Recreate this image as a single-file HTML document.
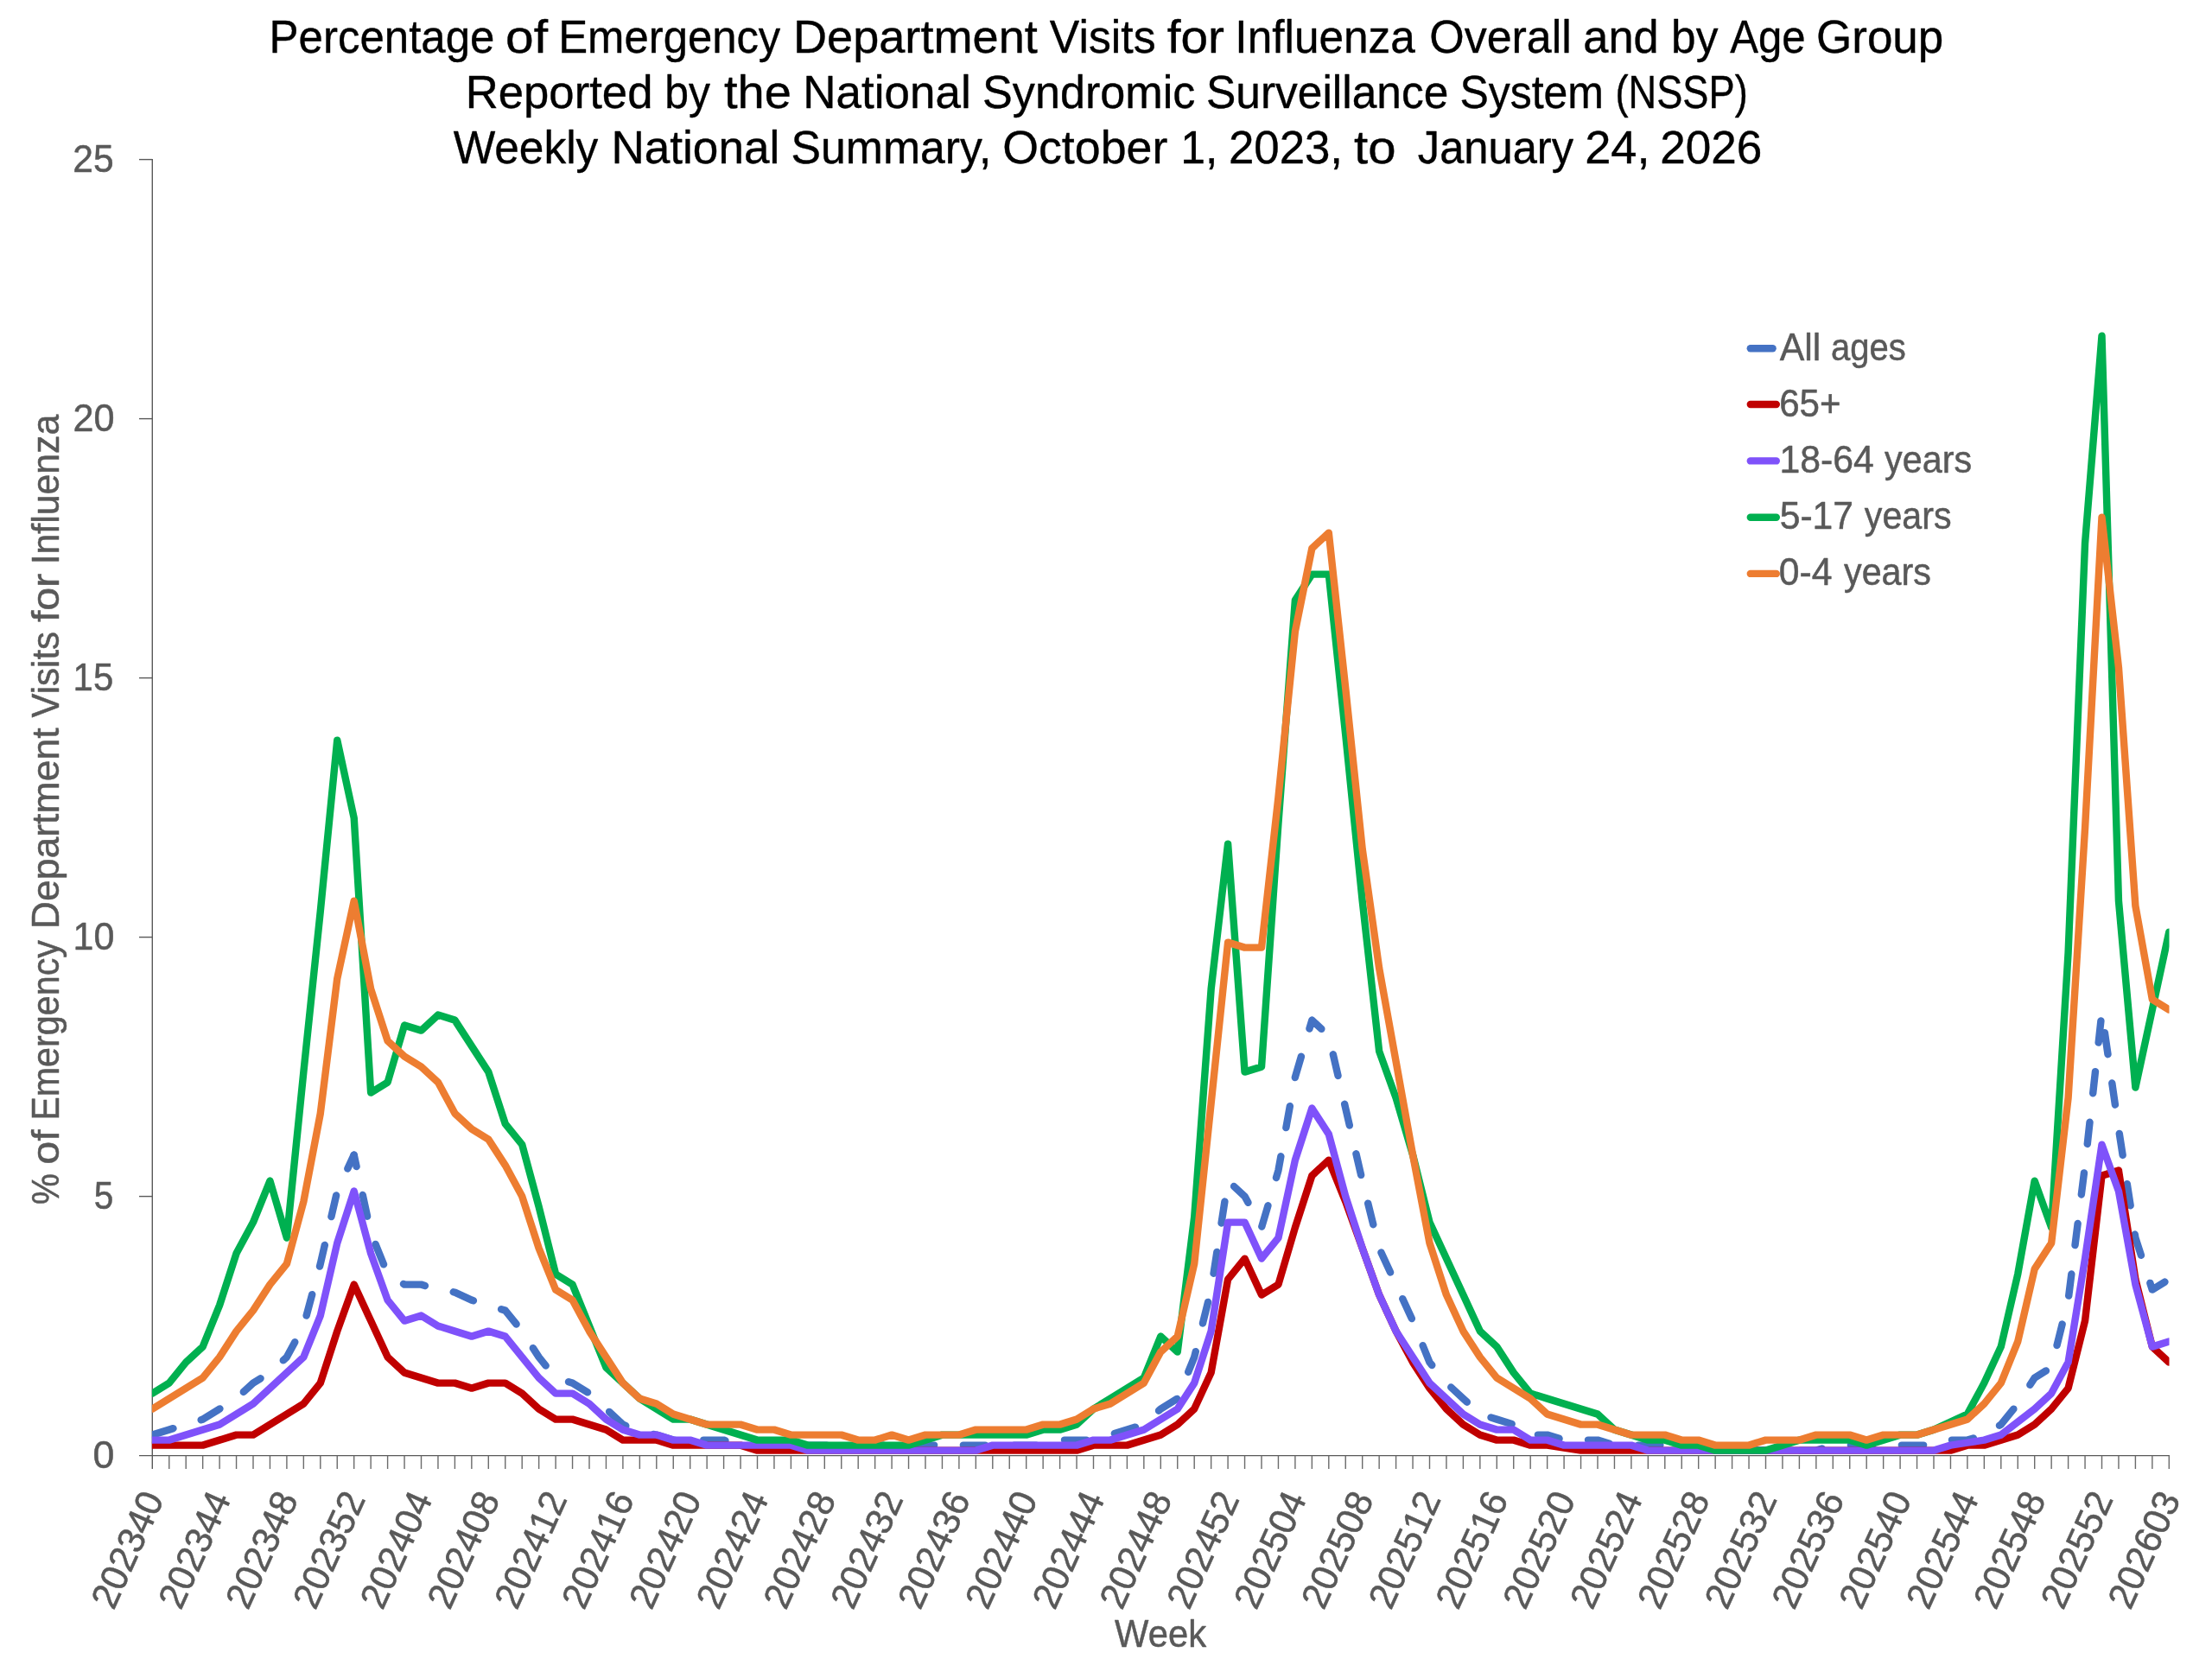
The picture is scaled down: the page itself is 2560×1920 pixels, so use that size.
<!DOCTYPE html>
<html lang="en"><head><meta charset="utf-8"><title>Percentage of Emergency Department Visits for Influenza</title>
<style>html,body{margin:0;padding:0;background:#fff}body{width:2560px;height:1920px;overflow:hidden}svg{display:block}text{font-family:"Liberation Sans",sans-serif;stroke-linejoin:round}.g text,text.g{stroke:#595959;stroke-width:0.5px}.k{stroke:#000;stroke-width:0.4px}</style>
</head><body>
<svg width="2560" height="1920" viewBox="0 0 2560 1920" style="will-change:transform">
<rect width="2560" height="1920" fill="#ffffff"/>
<defs><clipPath id="plot"><rect x="175.90" y="150" width="2334.60" height="1534.80"/></clipPath></defs>
<text class="k" x="311.62" y="61.10" font-size="54.50" fill="#000" textLength="260.75" lengthAdjust="spacingAndGlyphs">Percentage</text>
<text class="k" x="585.03" y="61.10" font-size="54.50" fill="#000" textLength="48.98" lengthAdjust="spacingAndGlyphs">of</text>
<text class="k" x="646.23" y="61.10" font-size="54.50" fill="#000" textLength="257.07" lengthAdjust="spacingAndGlyphs">Emergency</text>
<text class="k" x="917.96" y="61.10" font-size="54.50" fill="#000" textLength="282.84" lengthAdjust="spacingAndGlyphs">Department</text>
<text class="k" x="1214.87" y="61.10" font-size="54.50" fill="#000" textLength="122.70" lengthAdjust="spacingAndGlyphs">Visits</text>
<text class="k" x="1350.70" y="61.10" font-size="54.50" fill="#000" textLength="66.25" lengthAdjust="spacingAndGlyphs">for</text>
<text class="k" x="1429.36" y="61.10" font-size="54.50" fill="#000" textLength="208.54" lengthAdjust="spacingAndGlyphs">Influenza</text>
<text class="k" x="1654.24" y="61.10" font-size="54.50" fill="#000" textLength="164.64" lengthAdjust="spacingAndGlyphs">Overall</text>
<text class="k" x="1832.37" y="61.10" font-size="54.50" fill="#000" textLength="87.40" lengthAdjust="spacingAndGlyphs">and</text>
<text class="k" x="1934.09" y="61.10" font-size="54.50" fill="#000" textLength="54.31" lengthAdjust="spacingAndGlyphs">by</text>
<text class="k" x="2002.20" y="61.10" font-size="54.50" fill="#000" textLength="87.28" lengthAdjust="spacingAndGlyphs">Age</text>
<text class="k" x="2102.03" y="61.10" font-size="54.50" fill="#000" textLength="147.29" lengthAdjust="spacingAndGlyphs">Group</text>
<text class="k" x="538.68" y="125.00" font-size="54.50" fill="#000" textLength="216.82" lengthAdjust="spacingAndGlyphs">Reported</text>
<text class="k" x="769.18" y="125.00" font-size="54.50" fill="#000" textLength="52.71" lengthAdjust="spacingAndGlyphs">by</text>
<text class="k" x="837.95" y="125.00" font-size="54.50" fill="#000" textLength="77.94" lengthAdjust="spacingAndGlyphs">the</text>
<text class="k" x="929.35" y="125.00" font-size="54.50" fill="#000" textLength="194.39" lengthAdjust="spacingAndGlyphs">National</text>
<text class="k" x="1137.03" y="125.00" font-size="54.50" fill="#000" textLength="246.44" lengthAdjust="spacingAndGlyphs">Syndromic</text>
<text class="k" x="1395.96" y="125.00" font-size="54.50" fill="#000" textLength="280.43" lengthAdjust="spacingAndGlyphs">Surveillance</text>
<text class="k" x="1689.43" y="125.00" font-size="54.50" fill="#000" textLength="166.56" lengthAdjust="spacingAndGlyphs">System</text>
<text class="k" x="1869.50" y="125.00" font-size="54.50" fill="#000" textLength="153.21" lengthAdjust="spacingAndGlyphs">(NSSP)</text>
<text class="k" x="524.67" y="189.20" font-size="54.50" fill="#000" textLength="167.63" lengthAdjust="spacingAndGlyphs">Weekly</text>
<text class="k" x="707.44" y="189.20" font-size="54.50" fill="#000" textLength="194.81" lengthAdjust="spacingAndGlyphs">National</text>
<text class="k" x="915.55" y="189.20" font-size="54.50" fill="#000" textLength="231.90" lengthAdjust="spacingAndGlyphs">Summary,</text>
<text class="k" x="1160.16" y="189.20" font-size="54.50" fill="#000" textLength="191.14" lengthAdjust="spacingAndGlyphs">October</text>
<text class="k" x="1366.15" y="189.20" font-size="54.50" fill="#000" textLength="43.20" lengthAdjust="spacingAndGlyphs">1,</text>
<text class="k" x="1421.95" y="189.20" font-size="54.50" fill="#000" textLength="132.10" lengthAdjust="spacingAndGlyphs">2023,</text>
<text class="k" x="1567.02" y="189.20" font-size="54.50" fill="#000" textLength="48.52" lengthAdjust="spacingAndGlyphs">to</text>
<text class="k" x="1640.81" y="189.20" font-size="54.50" fill="#000" textLength="180.29" lengthAdjust="spacingAndGlyphs">January</text>
<text class="k" x="1834.17" y="189.20" font-size="54.50" fill="#000" textLength="75.40" lengthAdjust="spacingAndGlyphs">24,</text>
<text class="k" x="1921.23" y="189.20" font-size="54.50" fill="#000" textLength="118.00" lengthAdjust="spacingAndGlyphs">2026</text>
<g stroke="#595959" stroke-width="1.4" fill="none">
<line x1="176.30" y1="183.90" x2="176.30" y2="1700.00"/>
<line x1="161.00" y1="1684.60" x2="2511.00" y2="1684.60"/>
<line x1="161.00" y1="1384.60" x2="176.30" y2="1384.60"/>
<line x1="161.00" y1="1084.60" x2="176.30" y2="1084.60"/>
<line x1="161.00" y1="784.60" x2="176.30" y2="784.60"/>
<line x1="161.00" y1="484.60" x2="176.30" y2="484.60"/>
<line x1="161.00" y1="184.60" x2="176.30" y2="184.60"/>
</g>
<g stroke="#6b6b6b" stroke-width="1.4" fill="none">
<path d="M195.75 1684.60V1700.00M215.20 1684.60V1700.00M234.65 1684.60V1700.00M254.10 1684.60V1700.00M273.55 1684.60V1700.00M293.00 1684.60V1700.00M312.45 1684.60V1700.00M331.90 1684.60V1700.00M351.35 1684.60V1700.00M370.80 1684.60V1700.00M390.25 1684.60V1700.00M409.70 1684.60V1700.00M429.15 1684.60V1700.00M448.60 1684.60V1700.00M468.05 1684.60V1700.00M487.50 1684.60V1700.00M506.95 1684.60V1700.00M526.40 1684.60V1700.00M545.85 1684.60V1700.00M565.30 1684.60V1700.00M584.75 1684.60V1700.00M604.20 1684.60V1700.00M623.65 1684.60V1700.00M643.10 1684.60V1700.00M662.55 1684.60V1700.00M682.00 1684.60V1700.00M701.45 1684.60V1700.00M720.90 1684.60V1700.00M740.35 1684.60V1700.00M759.80 1684.60V1700.00M779.25 1684.60V1700.00M798.70 1684.60V1700.00M818.15 1684.60V1700.00M837.60 1684.60V1700.00M857.05 1684.60V1700.00M876.50 1684.60V1700.00M895.95 1684.60V1700.00M915.40 1684.60V1700.00M934.85 1684.60V1700.00M954.30 1684.60V1700.00M973.75 1684.60V1700.00M993.20 1684.60V1700.00M1012.65 1684.60V1700.00M1032.10 1684.60V1700.00M1051.55 1684.60V1700.00M1071.00 1684.60V1700.00M1090.45 1684.60V1700.00M1109.90 1684.60V1700.00M1129.35 1684.60V1700.00M1148.80 1684.60V1700.00M1168.25 1684.60V1700.00M1187.70 1684.60V1700.00M1207.15 1684.60V1700.00M1226.60 1684.60V1700.00M1246.05 1684.60V1700.00M1265.50 1684.60V1700.00M1284.95 1684.60V1700.00M1304.40 1684.60V1700.00M1323.85 1684.60V1700.00M1343.30 1684.60V1700.00M1362.75 1684.60V1700.00M1382.20 1684.60V1700.00M1401.65 1684.60V1700.00M1421.10 1684.60V1700.00M1440.55 1684.60V1700.00M1460.00 1684.60V1700.00M1479.45 1684.60V1700.00M1498.90 1684.60V1700.00M1518.35 1684.60V1700.00M1537.80 1684.60V1700.00M1557.25 1684.60V1700.00M1576.70 1684.60V1700.00M1596.15 1684.60V1700.00M1615.60 1684.60V1700.00M1635.05 1684.60V1700.00M1654.50 1684.60V1700.00M1673.95 1684.60V1700.00M1693.40 1684.60V1700.00M1712.85 1684.60V1700.00M1732.30 1684.60V1700.00M1751.75 1684.60V1700.00M1771.20 1684.60V1700.00M1790.65 1684.60V1700.00M1810.10 1684.60V1700.00M1829.55 1684.60V1700.00M1849.00 1684.60V1700.00M1868.45 1684.60V1700.00M1887.90 1684.60V1700.00M1907.35 1684.60V1700.00M1926.80 1684.60V1700.00M1946.25 1684.60V1700.00M1965.70 1684.60V1700.00M1985.15 1684.60V1700.00M2004.60 1684.60V1700.00M2024.05 1684.60V1700.00M2043.50 1684.60V1700.00M2062.95 1684.60V1700.00M2082.40 1684.60V1700.00M2101.85 1684.60V1700.00M2121.30 1684.60V1700.00M2140.75 1684.60V1700.00M2160.20 1684.60V1700.00M2179.65 1684.60V1700.00M2199.10 1684.60V1700.00M2218.55 1684.60V1700.00M2238.00 1684.60V1700.00M2257.45 1684.60V1700.00M2276.90 1684.60V1700.00M2296.35 1684.60V1700.00M2315.80 1684.60V1700.00M2335.25 1684.60V1700.00M2354.70 1684.60V1700.00M2374.15 1684.60V1700.00M2393.60 1684.60V1700.00M2413.05 1684.60V1700.00M2432.50 1684.60V1700.00M2451.95 1684.60V1700.00M2471.40 1684.60V1700.00M2490.85 1684.60V1700.00M2510.30 1684.60V1700.00"/>
</g>
<g clip-path="url(#plot)" fill="none" stroke-width="8.43" stroke-linejoin="round" stroke-linecap="round">
<polyline stroke="#4472C4" stroke-dasharray="25.29 33.72" stroke-dashoffset="0.00" points="176.30,1660.60 195.75,1654.60 215.20,1648.60 234.65,1642.60 254.10,1630.60 273.55,1618.60 293.00,1600.60 312.45,1588.60 331.90,1570.60 351.35,1534.60 370.80,1462.60 390.25,1378.60 409.70,1336.60"/>
<polyline stroke="#4472C4" stroke-dasharray="25.29 33.72" stroke-dashoffset="11.56" points="409.70,1336.60 429.15,1426.60 448.60,1474.60 468.05,1486.60 487.50,1486.60 506.95,1492.60 526.40,1495.60 545.85,1504.60 565.30,1510.60 584.75,1516.60 604.20,1540.60 623.65,1570.60 643.10,1594.60 662.55,1600.60 682.00,1612.60 701.45,1630.60 720.90,1648.60 740.35,1657.60 759.80,1660.60 779.25,1666.60 798.70,1666.60 818.15,1666.60 837.60,1666.60 857.05,1672.60 876.50,1672.60 895.95,1672.60 915.40,1672.60 934.85,1672.60 954.30,1672.60 973.75,1672.60 993.20,1672.60"/>
<polyline stroke="#4472C4" stroke-dasharray="25.29 33.72" stroke-dashoffset="55.36" points="993.20,1672.60 1012.65,1672.60 1032.10,1672.60 1051.55,1672.60 1071.00,1672.60 1090.45,1672.60 1109.90,1672.60 1129.35,1672.60 1148.80,1672.60 1168.25,1672.60 1187.70,1672.60 1207.15,1672.60 1226.60,1666.60 1246.05,1666.60 1265.50,1666.60 1284.95,1660.60 1304.40,1654.60 1323.85,1648.60 1343.30,1630.60 1362.75,1618.60 1382.20,1570.60 1401.65,1492.60 1421.10,1366.60 1440.55,1384.60 1460.00,1420.60 1479.45,1354.60 1498.90,1246.60 1518.35,1180.60 1537.80,1198.60 1557.25,1282.60 1576.70,1366.60 1596.15,1444.60 1615.60,1486.60 1635.05,1528.60 1654.50,1576.60 1673.95,1600.60 1693.40,1618.60 1712.85,1636.60 1732.30,1642.60 1751.75,1648.60 1771.20,1660.60 1790.65,1660.60 1810.10,1666.60 1829.55,1666.60 1849.00,1666.60 1868.45,1672.60 1887.90,1672.60 1907.35,1672.60 1926.80,1672.60 1946.25,1672.60 1965.70,1672.60 1985.15,1678.60 2004.60,1678.60 2024.05,1678.60"/>
<polyline stroke="#4472C4" stroke-dasharray="25.29 33.72" stroke-dashoffset="58.34" points="2024.05,1678.60 2043.50,1678.60 2062.95,1678.60 2082.40,1678.60 2101.85,1678.60 2121.30,1672.60 2140.75,1672.60 2160.20,1672.60 2179.65,1672.60 2199.10,1672.60 2218.55,1672.60 2238.00,1672.60 2257.45,1666.60 2276.90,1666.60 2296.35,1660.60 2315.80,1648.60 2335.25,1624.60 2354.70,1594.60 2374.15,1582.60 2393.60,1504.60 2413.05,1348.60 2432.50,1171.60 2451.95,1306.60 2471.40,1432.60 2490.85,1492.60 2510.30,1480.60"/>
<polyline stroke="#C00000" points="176.30,1672.60 195.75,1672.60 215.20,1672.60 234.65,1672.60 254.10,1666.60 273.55,1660.60 293.00,1660.60 312.45,1648.60 331.90,1636.60 351.35,1624.60 370.80,1600.60 390.25,1540.60 409.70,1486.60 429.15,1528.60 448.60,1570.60 468.05,1588.60 487.50,1594.60 506.95,1600.60 526.40,1600.60 545.85,1606.60 565.30,1600.60 584.75,1600.60 604.20,1612.60 623.65,1630.60 643.10,1642.60 662.55,1642.60 682.00,1648.60 701.45,1654.60 720.90,1666.60 740.35,1666.60 759.80,1666.60 779.25,1672.60 798.70,1672.60 818.15,1672.60 837.60,1672.60 857.05,1672.60 876.50,1678.60 895.95,1678.60 915.40,1678.60 934.85,1678.60 954.30,1678.60 973.75,1678.60 993.20,1678.60 1012.65,1678.60 1032.10,1678.60 1051.55,1678.60 1071.00,1678.60 1090.45,1678.60 1109.90,1678.60 1129.35,1678.60 1148.80,1678.60 1168.25,1678.60 1187.70,1678.60 1207.15,1678.60 1226.60,1678.60 1246.05,1678.60 1265.50,1672.60 1284.95,1672.60 1304.40,1672.60 1323.85,1666.60 1343.30,1660.60 1362.75,1648.60 1382.20,1630.60 1401.65,1588.60 1421.10,1480.60 1440.55,1456.60 1460.00,1498.60 1479.45,1486.60 1498.90,1420.60 1518.35,1360.60 1537.80,1342.60 1557.25,1390.60 1576.70,1444.60 1596.15,1498.60 1615.60,1540.60 1635.05,1576.60 1654.50,1606.60 1673.95,1630.60 1693.40,1648.60 1712.85,1660.60 1732.30,1666.60 1751.75,1666.60 1771.20,1672.60 1790.65,1672.60 1810.10,1675.60 1829.55,1678.60 1849.00,1678.60 1868.45,1678.60 1887.90,1678.60 1907.35,1678.60 1926.80,1678.60 1946.25,1678.60 1965.70,1678.60 1985.15,1678.60 2004.60,1678.60 2024.05,1678.60 2043.50,1678.60 2062.95,1678.60 2082.40,1678.60 2101.85,1678.60 2121.30,1678.60 2140.75,1678.60 2160.20,1678.60 2179.65,1678.60 2199.10,1678.60 2218.55,1678.60 2238.00,1678.60 2257.45,1678.60 2276.90,1672.60 2296.35,1672.60 2315.80,1666.60 2335.25,1660.60 2354.70,1648.60 2374.15,1630.60 2393.60,1606.60 2413.05,1528.60 2432.50,1360.60 2451.95,1354.60 2471.40,1480.60 2490.85,1558.60 2510.30,1576.60"/>
<polyline stroke="#7F52FA" points="176.30,1666.60 195.75,1666.60 215.20,1660.60 234.65,1654.60 254.10,1648.60 273.55,1636.60 293.00,1624.60 312.45,1606.60 331.90,1588.60 351.35,1570.60 370.80,1522.60 390.25,1438.60 409.70,1378.60 429.15,1450.60 448.60,1504.60 468.05,1528.60 487.50,1522.60 506.95,1534.60 526.40,1540.60 545.85,1546.60 565.30,1540.60 584.75,1546.60 604.20,1570.60 623.65,1594.60 643.10,1612.60 662.55,1612.60 682.00,1624.60 701.45,1642.60 720.90,1654.60 740.35,1660.60 759.80,1660.60 779.25,1666.60 798.70,1666.60 818.15,1672.60 837.60,1672.60 857.05,1672.60 876.50,1672.60 895.95,1672.60 915.40,1672.60 934.85,1678.60 954.30,1678.60 973.75,1678.60 993.20,1678.60 1012.65,1678.60 1032.10,1678.60 1051.55,1678.60 1071.00,1678.60 1090.45,1678.60 1109.90,1678.60 1129.35,1678.60 1148.80,1672.60 1168.25,1672.60 1187.70,1672.60 1207.15,1672.60 1226.60,1672.60 1246.05,1672.60 1265.50,1666.60 1284.95,1666.60 1304.40,1660.60 1323.85,1654.60 1343.30,1642.60 1362.75,1630.60 1382.20,1600.60 1401.65,1540.60 1421.10,1414.60 1440.55,1414.60 1460.00,1456.60 1479.45,1432.60 1498.90,1342.60 1518.35,1282.60 1537.80,1312.60 1557.25,1384.60 1576.70,1444.60 1596.15,1498.60 1615.60,1540.60 1635.05,1570.60 1654.50,1600.60 1673.95,1618.60 1693.40,1636.60 1712.85,1648.60 1732.30,1654.60 1751.75,1654.60 1771.20,1666.60 1790.65,1666.60 1810.10,1672.60 1829.55,1672.60 1849.00,1672.60 1868.45,1672.60 1887.90,1672.60 1907.35,1678.60 1926.80,1678.60 1946.25,1678.60 1965.70,1678.60 1985.15,1678.60 2004.60,1678.60 2024.05,1678.60 2043.50,1678.60 2062.95,1678.60 2082.40,1678.60 2101.85,1678.60 2121.30,1678.60 2140.75,1678.60 2160.20,1678.60 2179.65,1678.60 2199.10,1678.60 2218.55,1678.60 2238.00,1678.60 2257.45,1672.60 2276.90,1669.60 2296.35,1666.60 2315.80,1660.60 2335.25,1645.60 2354.70,1630.60 2374.15,1612.60 2393.60,1576.60 2413.05,1456.60 2432.50,1324.60 2451.95,1378.60 2471.40,1486.60 2490.85,1558.60 2510.30,1552.60"/>
<polyline stroke="#00B050" points="176.30,1612.60 195.75,1600.60 215.20,1576.60 234.65,1558.60 254.10,1510.60 273.55,1450.60 293.00,1414.60 312.45,1366.60 331.90,1432.60 351.35,1240.60 370.80,1054.60 390.25,856.60 409.70,946.60 429.15,1264.60 448.60,1252.60 468.05,1186.60 487.50,1192.60 506.95,1174.60 526.40,1180.60 545.85,1210.60 565.30,1240.60 584.75,1300.60 604.20,1324.60 623.65,1396.60 643.10,1474.60 662.55,1486.60 682.00,1534.60 701.45,1582.60 720.90,1600.60 740.35,1618.60 759.80,1630.60 779.25,1642.60 798.70,1642.60 818.15,1648.60 837.60,1654.60 857.05,1660.60 876.50,1666.60 895.95,1666.60 915.40,1666.60 934.85,1672.60 954.30,1672.60 973.75,1672.60 993.20,1672.60 1012.65,1672.60 1032.10,1672.60 1051.55,1672.60 1071.00,1666.60 1090.45,1660.60 1109.90,1660.60 1129.35,1660.60 1148.80,1660.60 1168.25,1660.60 1187.70,1660.60 1207.15,1654.60 1226.60,1654.60 1246.05,1648.60 1265.50,1630.60 1284.95,1618.60 1304.40,1606.60 1323.85,1594.60 1343.30,1546.60 1362.75,1564.60 1382.20,1408.60 1401.65,1144.60 1421.10,976.60 1440.55,1240.60 1460.00,1234.60 1479.45,952.60 1498.90,694.60 1518.35,664.60 1537.80,664.60 1557.25,850.60 1576.70,1042.60 1596.15,1216.60 1615.60,1270.60 1635.05,1336.60 1654.50,1414.60 1673.95,1456.60 1693.40,1498.60 1712.85,1540.60 1732.30,1558.60 1751.75,1588.60 1771.20,1612.60 1790.65,1618.60 1810.10,1624.60 1829.55,1630.60 1849.00,1636.60 1868.45,1654.60 1887.90,1660.60 1907.35,1666.60 1926.80,1666.60 1946.25,1672.60 1965.70,1672.60 1985.15,1678.60 2004.60,1678.60 2024.05,1678.60 2043.50,1678.60 2062.95,1672.60 2082.40,1666.60 2101.85,1666.60 2121.30,1666.60 2140.75,1666.60 2160.20,1672.60 2179.65,1666.60 2199.10,1660.60 2218.55,1660.60 2238.00,1654.60 2257.45,1645.60 2276.90,1636.60 2296.35,1600.60 2315.80,1558.60 2335.25,1474.60 2354.70,1366.60 2374.15,1420.60 2393.60,1102.60 2413.05,628.60 2432.50,388.60 2451.95,1042.60 2471.40,1258.60 2490.85,1168.60 2510.30,1078.60"/>
<polyline stroke="#ED7D31" points="176.30,1630.60 195.75,1618.60 215.20,1606.60 234.65,1594.60 254.10,1570.60 273.55,1540.60 293.00,1516.60 312.45,1486.60 331.90,1462.60 351.35,1390.60 370.80,1288.60 390.25,1132.60 409.70,1042.60 429.15,1144.60 448.60,1204.60 468.05,1222.60 487.50,1234.60 506.95,1252.60 526.40,1288.60 545.85,1306.60 565.30,1318.60 584.75,1348.60 604.20,1384.60 623.65,1444.60 643.10,1492.60 662.55,1504.60 682.00,1540.60 701.45,1570.60 720.90,1600.60 740.35,1618.60 759.80,1624.60 779.25,1636.60 798.70,1642.60 818.15,1648.60 837.60,1648.60 857.05,1648.60 876.50,1654.60 895.95,1654.60 915.40,1660.60 934.85,1660.60 954.30,1660.60 973.75,1660.60 993.20,1666.60 1012.65,1666.60 1032.10,1660.60 1051.55,1666.60 1071.00,1660.60 1090.45,1660.60 1109.90,1660.60 1129.35,1654.60 1148.80,1654.60 1168.25,1654.60 1187.70,1654.60 1207.15,1648.60 1226.60,1648.60 1246.05,1642.60 1265.50,1630.60 1284.95,1624.60 1304.40,1612.60 1323.85,1600.60 1343.30,1564.60 1362.75,1546.60 1382.20,1462.60 1401.65,1276.60 1421.10,1090.60 1440.55,1096.60 1460.00,1096.60 1479.45,922.60 1498.90,730.60 1518.35,634.60 1537.80,616.60 1557.25,796.60 1576.70,982.60 1596.15,1120.60 1615.60,1228.60 1635.05,1336.60 1654.50,1438.60 1673.95,1498.60 1693.40,1540.60 1712.85,1570.60 1732.30,1594.60 1751.75,1606.60 1771.20,1618.60 1790.65,1636.60 1810.10,1642.60 1829.55,1648.60 1849.00,1648.60 1868.45,1654.60 1887.90,1660.60 1907.35,1660.60 1926.80,1660.60 1946.25,1666.60 1965.70,1666.60 1985.15,1672.60 2004.60,1672.60 2024.05,1672.60 2043.50,1666.60 2062.95,1666.60 2082.40,1666.60 2101.85,1660.60 2121.30,1660.60 2140.75,1660.60 2160.20,1666.60 2179.65,1660.60 2199.10,1660.60 2218.55,1660.60 2238.00,1654.60 2257.45,1648.60 2276.90,1642.60 2296.35,1624.60 2315.80,1600.60 2335.25,1552.60 2354.70,1468.60 2374.15,1438.60 2393.60,1270.60 2413.05,958.60 2432.50,598.60 2451.95,772.60 2471.40,1048.60 2490.85,1156.60 2510.30,1168.60"/>
</g>
<g class="g" fill="#595959" font-size="43.50">
<text x="107.45" y="1698.50" textLength="24.90" lengthAdjust="spacingAndGlyphs">0</text>
<text x="108.87" y="1398.50" textLength="22.64" lengthAdjust="spacingAndGlyphs">5</text>
<text x="84.52" y="1098.50" textLength="47.86" lengthAdjust="spacingAndGlyphs">10</text>
<text x="84.61" y="798.50" textLength="46.66" lengthAdjust="spacingAndGlyphs">15</text>
<text x="84.43" y="498.50" textLength="48.06" lengthAdjust="spacingAndGlyphs">20</text>
<text x="84.26" y="198.50" textLength="47.33" lengthAdjust="spacingAndGlyphs">25</text>
</g>
<g class="g" fill="#595959" font-size="43.50" text-anchor="end">
<text transform="translate(190.20 1734.60) rotate(-65.70)" textLength="142.60" lengthAdjust="spacingAndGlyphs">202340</text>
<text transform="translate(268.00 1734.60) rotate(-65.70)" textLength="142.60" lengthAdjust="spacingAndGlyphs">202344</text>
<text transform="translate(345.80 1734.60) rotate(-65.70)" textLength="142.60" lengthAdjust="spacingAndGlyphs">202348</text>
<text transform="translate(423.60 1734.60) rotate(-65.70)" textLength="142.60" lengthAdjust="spacingAndGlyphs">202352</text>
<text transform="translate(501.40 1734.60) rotate(-65.70)" textLength="142.60" lengthAdjust="spacingAndGlyphs">202404</text>
<text transform="translate(579.20 1734.60) rotate(-65.70)" textLength="142.60" lengthAdjust="spacingAndGlyphs">202408</text>
<text transform="translate(657.00 1734.60) rotate(-65.70)" textLength="142.60" lengthAdjust="spacingAndGlyphs">202412</text>
<text transform="translate(734.80 1734.60) rotate(-65.70)" textLength="142.60" lengthAdjust="spacingAndGlyphs">202416</text>
<text transform="translate(812.60 1734.60) rotate(-65.70)" textLength="142.60" lengthAdjust="spacingAndGlyphs">202420</text>
<text transform="translate(890.40 1734.60) rotate(-65.70)" textLength="142.60" lengthAdjust="spacingAndGlyphs">202424</text>
<text transform="translate(968.20 1734.60) rotate(-65.70)" textLength="142.60" lengthAdjust="spacingAndGlyphs">202428</text>
<text transform="translate(1046.00 1734.60) rotate(-65.70)" textLength="142.60" lengthAdjust="spacingAndGlyphs">202432</text>
<text transform="translate(1123.80 1734.60) rotate(-65.70)" textLength="142.60" lengthAdjust="spacingAndGlyphs">202436</text>
<text transform="translate(1201.60 1734.60) rotate(-65.70)" textLength="142.60" lengthAdjust="spacingAndGlyphs">202440</text>
<text transform="translate(1279.40 1734.60) rotate(-65.70)" textLength="142.60" lengthAdjust="spacingAndGlyphs">202444</text>
<text transform="translate(1357.20 1734.60) rotate(-65.70)" textLength="142.60" lengthAdjust="spacingAndGlyphs">202448</text>
<text transform="translate(1435.00 1734.60) rotate(-65.70)" textLength="142.60" lengthAdjust="spacingAndGlyphs">202452</text>
<text transform="translate(1512.80 1734.60) rotate(-65.70)" textLength="142.60" lengthAdjust="spacingAndGlyphs">202504</text>
<text transform="translate(1590.60 1734.60) rotate(-65.70)" textLength="142.60" lengthAdjust="spacingAndGlyphs">202508</text>
<text transform="translate(1668.40 1734.60) rotate(-65.70)" textLength="142.60" lengthAdjust="spacingAndGlyphs">202512</text>
<text transform="translate(1746.20 1734.60) rotate(-65.70)" textLength="142.60" lengthAdjust="spacingAndGlyphs">202516</text>
<text transform="translate(1824.00 1734.60) rotate(-65.70)" textLength="142.60" lengthAdjust="spacingAndGlyphs">202520</text>
<text transform="translate(1901.80 1734.60) rotate(-65.70)" textLength="142.60" lengthAdjust="spacingAndGlyphs">202524</text>
<text transform="translate(1979.60 1734.60) rotate(-65.70)" textLength="142.60" lengthAdjust="spacingAndGlyphs">202528</text>
<text transform="translate(2057.40 1734.60) rotate(-65.70)" textLength="142.60" lengthAdjust="spacingAndGlyphs">202532</text>
<text transform="translate(2135.20 1734.60) rotate(-65.70)" textLength="142.60" lengthAdjust="spacingAndGlyphs">202536</text>
<text transform="translate(2213.00 1734.60) rotate(-65.70)" textLength="142.60" lengthAdjust="spacingAndGlyphs">202540</text>
<text transform="translate(2290.80 1734.60) rotate(-65.70)" textLength="142.60" lengthAdjust="spacingAndGlyphs">202544</text>
<text transform="translate(2368.60 1734.60) rotate(-65.70)" textLength="142.60" lengthAdjust="spacingAndGlyphs">202548</text>
<text transform="translate(2446.40 1734.60) rotate(-65.70)" textLength="142.60" lengthAdjust="spacingAndGlyphs">202552</text>
<text transform="translate(2524.20 1734.60) rotate(-65.70)" textLength="142.60" lengthAdjust="spacingAndGlyphs">202603</text>
</g>
<text class="g" x="1290.12" y="1905.5" font-size="43.50" fill="#595959" textLength="105.92" lengthAdjust="spacingAndGlyphs">Week</text>
<g class="g" transform="translate(67.60 1392.60) rotate(-90)" font-size="43.50" fill="#595959">
<text x="-1.44" y="0" textLength="35.88" lengthAdjust="spacingAndGlyphs">%</text>
<text x="44.76" y="0" textLength="40.47" lengthAdjust="spacingAndGlyphs">of</text>
<text x="95.81" y="0" textLength="208.77" lengthAdjust="spacingAndGlyphs">Emergency</text>
<text x="317.34" y="0" textLength="232.88" lengthAdjust="spacingAndGlyphs">Department</text>
<text x="562.12" y="0" textLength="99.60" lengthAdjust="spacingAndGlyphs">Visits</text>
<text x="672.51" y="0" textLength="56.49" lengthAdjust="spacingAndGlyphs">for</text>
<text x="739.25" y="0" textLength="173.65" lengthAdjust="spacingAndGlyphs">Influenza</text>
</g>
<line x1="2025.81" y1="403.20" x2="2051.59" y2="403.20" stroke="#4472C4" stroke-width="8.43" stroke-linecap="round"/>
<text class="g" x="2059.72" y="416.60" font-size="43.50" fill="#595959" textLength="47.65" lengthAdjust="spacingAndGlyphs">All</text>
<text class="g" x="2119.10" y="416.60" font-size="43.50" fill="#595959" textLength="86.74" lengthAdjust="spacingAndGlyphs">ages</text>
<line x1="2025.81" y1="468.00" x2="2055.78" y2="468.00" stroke="#C00000" stroke-width="8.43" stroke-linecap="round"/>
<text class="g" x="2059.16" y="481.60" font-size="43.50" fill="#595959" textLength="71.41" lengthAdjust="spacingAndGlyphs">65+</text>
<line x1="2025.81" y1="533.40" x2="2055.78" y2="533.40" stroke="#7F52FA" stroke-width="8.43" stroke-linecap="round"/>
<text class="g" x="2059.44" y="547.00" font-size="43.50" fill="#595959" textLength="109.41" lengthAdjust="spacingAndGlyphs">18-64</text>
<text class="g" x="2181.10" y="547.00" font-size="43.50" fill="#595959" textLength="100.99" lengthAdjust="spacingAndGlyphs">years</text>
<line x1="2025.81" y1="598.70" x2="2055.78" y2="598.70" stroke="#00B050" stroke-width="8.43" stroke-linecap="round"/>
<text class="g" x="2059.69" y="612.10" font-size="43.50" fill="#595959" textLength="85.35" lengthAdjust="spacingAndGlyphs">5-17</text>
<text class="g" x="2157.80" y="612.10" font-size="43.50" fill="#595959" textLength="100.69" lengthAdjust="spacingAndGlyphs">years</text>
<line x1="2025.81" y1="663.90" x2="2055.78" y2="663.90" stroke="#ED7D31" stroke-width="8.43" stroke-linecap="round"/>
<text class="g" x="2058.83" y="677.40" font-size="43.50" fill="#595959" textLength="61.72" lengthAdjust="spacingAndGlyphs">0-4</text>
<text class="g" x="2134.00" y="677.40" font-size="43.50" fill="#595959" textLength="100.99" lengthAdjust="spacingAndGlyphs">years</text>
</svg>
</body></html>
